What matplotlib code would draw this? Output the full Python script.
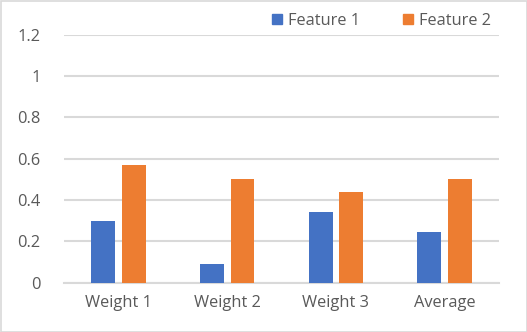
import matplotlib
matplotlib.use("Agg")
import matplotlib.pyplot as plt
from matplotlib.patches import Rectangle
from matplotlib.lines import Line2D
import numpy as np

categories = ["Weight 1", "Weight 2", "Weight 3", "Average"]
feature1 = [0.30, 0.09, 0.34, 0.245]
feature2 = [0.57, 0.50, 0.44, 0.50]
series_names = ["Feature 1", "Feature 2"]
yticks = [0, 0.2, 0.4, 0.6, 0.8, 1, 1.2]
ytick_labels = ["0", "0.2", "0.4", "0.6", "0.8", "1", "1.2"]

c1 = "#4472C4"
c2 = "#ED7D31"
txt = "#595959"
grid = "#D9D9D9"

plt.rcParams['font.family'] = ['Open Sans', 'DejaVu Sans']

W, H = 527, 332
fig = plt.figure(figsize=(W/100, H/100), dpi=100)
ax = fig.add_axes([64.3/W, 1-282.7/H, (499-64.3)/W, (282.7-34.7)/H])

x = np.arange(len(categories))
bw = 0.218
gap = 0.064
ax.bar(x - (bw+gap)/2, feature1, width=bw, color=c1, label=series_names[0], zorder=3)
ax.bar(x + (bw+gap)/2, feature2, width=bw, color=c2, label=series_names[1], zorder=3)

ax.set_xlim(-0.5, len(categories)-0.5)
ax.set_ylim(0, 1.2)
ax.set_yticks(yticks)
ax.set_yticklabels(ytick_labels)
ax.set_xticks(x)
ax.set_xticklabels(categories)
ax.tick_params(axis='both', length=0, labelsize=11.8, colors=txt)
ax.tick_params(axis='y', pad=17)
ax.tick_params(axis='x', pad=9)
ax.yaxis.grid(True, color=grid, linewidth=1.5, zorder=0)
for s in ['top', 'right', 'left']:
    ax.spines[s].set_visible(False)
ax.spines['bottom'].set_color(grid)
ax.spines['bottom'].set_linewidth(1.5)
ax.set_axisbelow(True)

handles = [Line2D([], [], marker='s', linestyle='', markersize=7.5, color=c1),
           Line2D([], [], marker='s', linestyle='', markersize=7.5, color=c2)]
fig.legend(handles, series_names, loc='center left', bbox_to_anchor=(262/W, 1-21/H),
           ncol=2, frameon=False, fontsize=11.8, labelcolor=txt,
           handlelength=0.8, handletextpad=0.3, columnspacing=2.5, borderpad=0)

fig.patches.append(Rectangle((0.5/W, 0.5/H), 1-1/W, 1-1/H, transform=fig.transFigure,
                             fill=False, edgecolor=grid, linewidth=1.2))

fig.savefig("out.png", dpi=100)
